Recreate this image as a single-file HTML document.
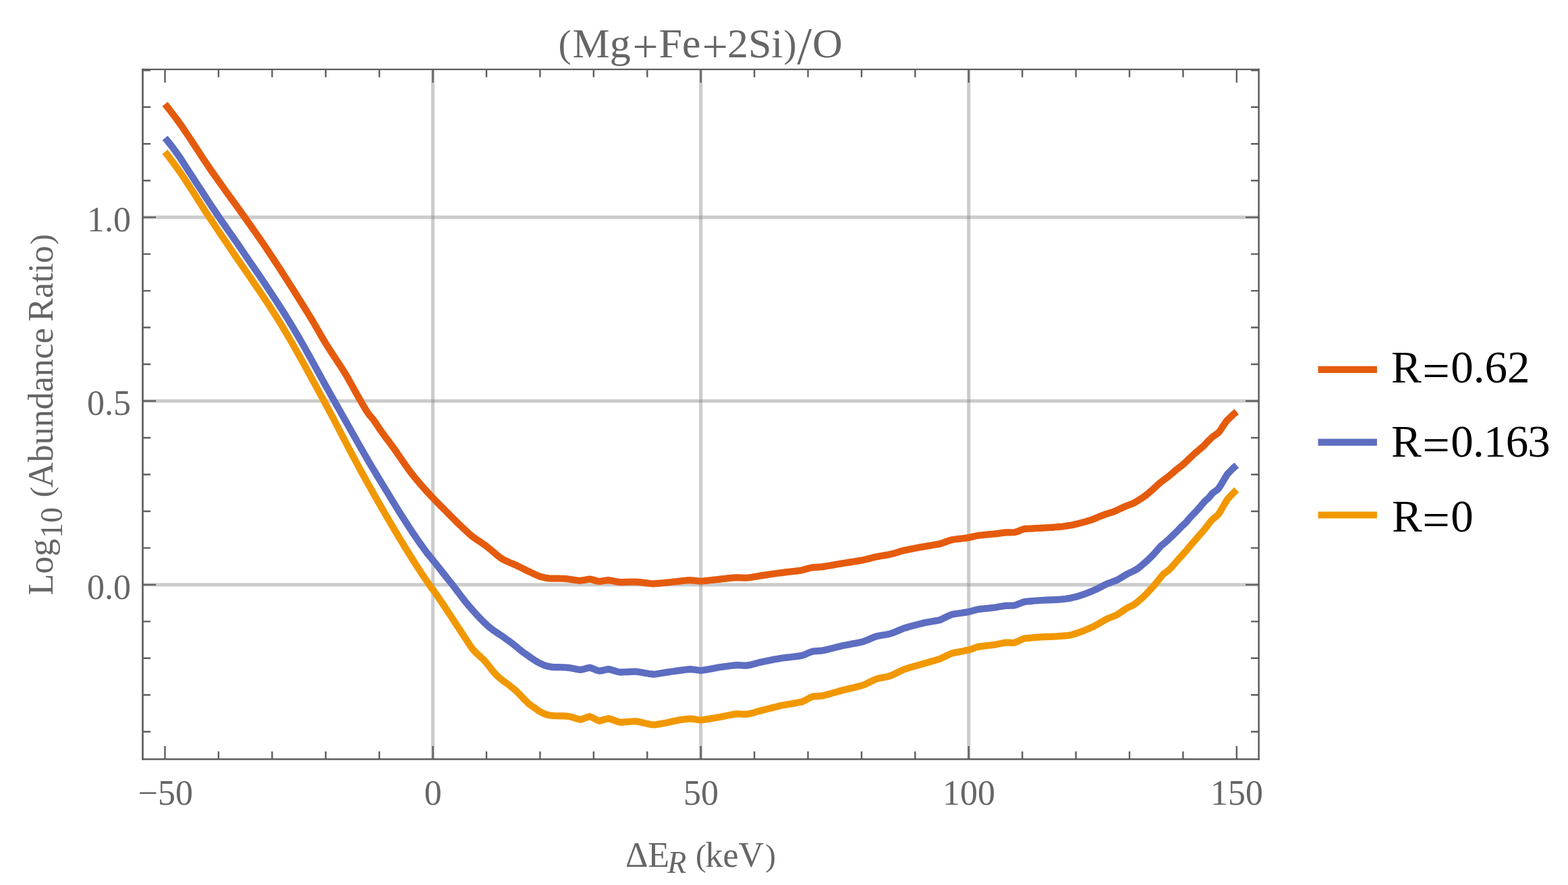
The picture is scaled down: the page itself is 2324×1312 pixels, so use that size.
<!DOCTYPE html>
<html lang="en"><head><meta charset="utf-8"><title>(Mg+Fe+2Si)/O</title>
<style>html,body{margin:0;padding:0;background:#fff;}body{width:2324px;height:1312px;overflow:hidden;}svg{display:block;}</style>
</head><body>
<svg width="2324" height="1312" viewBox="0 0 2324 1312">
<rect width="2324" height="1312" fill="#fff"/>
<path d="M641.60,103.0 V1125.5 M1038.70,103.0 V1125.5 M1435.80,103.0 V1125.5" stroke="rgba(128,128,128,0.4)" stroke-width="5.1" fill="none"/>
<path d="M211.5,866.87 H1865.7 M211.5,594.51 H1865.7 M211.5,322.15 H1865.7" stroke="rgba(128,128,128,0.4)" stroke-width="5.1" fill="none"/>
<path d="M244.55,154.30 L248.34,159.05 L252.13,163.86 L255.92,168.76 L259.71,173.76 L263.50,178.90 L267.32,184.23 L271.15,189.71 L274.97,195.30 L278.79,201.00 L282.62,206.77 L286.44,212.60 L290.26,218.45 L294.08,224.32 L297.91,230.17 L301.73,235.99 L305.55,241.75 L309.38,247.43 L313.20,253.00 L317.02,258.47 L320.83,263.89 L324.65,269.26 L328.46,274.59 L332.28,279.89 L336.09,285.18 L339.91,290.44 L343.72,295.71 L347.54,300.98 L351.35,306.27 L355.17,311.58 L358.98,316.92 L362.80,322.30 L366.61,327.69 L370.43,333.07 L374.24,338.46 L378.05,343.88 L381.86,349.32 L385.68,354.82 L389.49,360.37 L393.30,366.00 L397.21,371.84 L401.12,377.72 L405.04,383.64 L408.95,389.59 L412.86,395.58 L416.77,401.61 L420.68,407.67 L424.59,413.77 L428.51,419.90 L432.42,426.06 L436.33,432.25 L440.24,438.47 L444.15,444.72 L448.06,451.00 L451.98,457.31 L455.89,463.64 L459.80,470.00 L462.50,474.46 L465.20,479.00 L468.68,484.96 L472.16,491.04 L475.64,497.12 L479.12,503.11 L482.60,508.90 L485.97,514.28 L489.33,519.50 L492.70,524.63 L496.07,529.72 L499.43,534.82 L502.80,540.00 L506.10,545.08 L509.40,550.18 L512.70,555.50 L515.80,560.84 L518.90,566.41 L522.00,572.00 L526.00,579.22 L530.00,586.47 L534.00,593.50 L537.20,599.03 L540.40,604.53 L543.60,609.73 L546.80,614.40 L550.10,618.34 L553.40,622.20 L556.90,627.17 L560.40,632.56 L563.90,637.80 L567.48,642.79 L571.06,647.62 L574.64,652.38 L578.22,657.15 L581.80,662.00 L585.61,667.33 L589.42,672.80 L593.24,678.33 L597.05,683.88 L600.86,689.36 L604.67,694.72 L608.49,699.90 L612.30,704.83 L616.18,709.62 L620.06,714.26 L623.94,718.77 L627.83,723.16 L631.71,727.47 L635.59,731.70 L639.47,735.87 L643.35,740.00 L646.72,743.51 L650.09,746.93 L653.46,750.28 L656.83,753.63 L660.20,757.00 L663.57,760.42 L666.93,763.85 L670.30,767.28 L673.66,770.67 L677.03,774.00 L680.89,777.74 L684.74,781.41 L688.60,785.00 L691.61,787.79 L694.62,790.57 L697.64,793.23 L700.65,795.70 L704.09,798.21 L707.52,800.52 L710.96,802.77 L714.40,805.10 L717.20,807.09 L720.00,809.15 L722.73,811.24 L725.47,813.39 L728.20,815.60 L731.77,818.65 L735.33,821.79 L738.90,824.70 L742.15,827.11 L745.40,829.20 L749.28,831.22 L753.16,832.98 L757.04,834.61 L760.92,836.22 L764.80,837.94 L768.68,839.81 L772.56,841.74 L776.44,843.68 L780.32,845.59 L784.20,847.40 L788.10,849.25 L792.00,851.15 L795.90,852.94 L799.80,854.48 L803.70,855.60 L806.93,856.29 L810.15,856.89 L813.38,857.35 L816.60,857.60 L820.50,857.66 L824.40,857.69 L828.30,857.71 L832.20,857.75 L836.10,857.80 L839.33,858.10 L842.55,858.55 L845.77,859.04 L849.00,859.50 L852.67,859.99 L856.33,860.46 L860.00,860.80 L863.58,860.32 L867.15,859.65 L870.72,858.98 L874.30,858.50 L877.70,859.23 L881.10,860.25 L884.50,861.27 L887.90,862.00 L891.30,861.61 L894.70,861.05 L898.10,860.49 L901.50,860.10 L905.00,860.57 L908.50,861.24 L912.00,861.96 L915.50,862.63 L919.00,863.10 L922.67,863.03 L926.33,862.92 L930.00,862.80 L933.67,862.68 L937.33,862.58 L941.00,862.50 L944.89,862.79 L948.77,863.19 L952.66,863.66 L956.54,864.14 L960.43,864.61 L964.31,865.01 L968.20,865.30 L971.58,865.12 L974.96,864.87 L978.34,864.59 L981.72,864.29 L985.10,864.00 L988.83,863.62 L992.55,863.21 L996.27,862.80 L1000.00,862.40 L1003.67,862.01 L1007.33,861.59 L1011.00,861.17 L1014.67,860.78 L1018.33,860.45 L1022.00,860.20 L1025.32,860.40 L1028.64,860.69 L1031.96,861.01 L1035.28,861.30 L1038.60,861.50 L1042.54,861.23 L1046.48,860.87 L1050.42,860.45 L1054.36,860.01 L1058.30,859.60 L1061.90,859.22 L1065.50,858.82 L1069.10,858.40 L1072.70,857.98 L1076.30,857.57 L1079.90,857.18 L1083.50,856.84 L1087.10,856.54 L1090.70,856.30 L1094.60,856.38 L1098.50,856.50 L1102.40,856.62 L1106.30,856.70 L1110.18,856.29 L1114.07,855.73 L1117.95,855.09 L1121.83,854.41 L1125.72,853.73 L1129.60,853.10 L1133.20,852.59 L1136.80,852.08 L1140.40,851.57 L1144.00,851.07 L1147.60,850.56 L1151.20,850.07 L1154.80,849.57 L1158.40,849.08 L1162.00,848.60 L1165.51,848.18 L1169.03,847.79 L1172.54,847.40 L1176.06,847.01 L1179.57,846.60 L1183.09,846.17 L1186.60,845.70 L1189.96,844.89 L1193.32,843.97 L1196.68,843.02 L1200.04,842.14 L1203.40,841.40 L1206.98,841.12 L1210.55,840.89 L1214.12,840.66 L1217.70,840.40 L1221.26,839.89 L1224.83,839.33 L1228.39,838.73 L1231.95,838.11 L1235.51,837.48 L1239.08,836.84 L1242.64,836.21 L1246.20,835.60 L1249.80,835.02 L1253.40,834.46 L1257.00,833.90 L1260.60,833.34 L1264.20,832.78 L1267.80,832.21 L1271.40,831.63 L1275.00,831.03 L1278.60,830.40 L1281.88,829.62 L1285.16,828.79 L1288.44,827.94 L1291.72,827.10 L1295.00,826.30 L1298.91,825.53 L1302.83,824.80 L1306.74,824.08 L1310.66,823.38 L1314.57,822.65 L1318.49,821.90 L1322.40,821.11 L1325.92,820.11 L1329.44,819.05 L1332.96,817.96 L1336.48,816.90 L1340.00,815.90 L1343.75,815.13 L1347.50,814.38 L1351.25,813.66 L1355.00,812.96 L1358.75,812.26 L1362.50,811.58 L1366.25,810.89 L1370.00,810.20 L1373.95,809.53 L1377.90,808.89 L1381.85,808.25 L1385.80,807.59 L1389.75,806.89 L1393.70,806.12 L1396.85,805.04 L1400.00,803.90 L1403.50,802.66 L1407.00,801.43 L1410.50,800.34 L1414.07,799.80 L1417.64,799.32 L1421.21,798.87 L1424.79,798.45 L1428.36,798.02 L1431.93,797.57 L1435.50,797.07 L1438.97,796.30 L1442.45,795.46 L1445.93,794.63 L1449.40,793.90 L1453.10,793.49 L1456.80,793.12 L1460.50,792.77 L1464.20,792.44 L1467.90,792.11 L1471.60,791.77 L1475.30,791.40 L1479.20,790.88 L1483.10,790.33 L1487.00,789.81 L1490.90,789.40 L1494.12,789.34 L1497.35,789.30 L1500.58,789.26 L1503.80,789.20 L1507.38,788.17 L1510.95,786.77 L1514.52,785.34 L1518.10,784.21 L1521.61,783.96 L1525.13,783.75 L1528.64,783.55 L1532.16,783.37 L1535.67,783.20 L1539.19,783.02 L1542.70,782.83 L1546.16,782.63 L1549.62,782.43 L1553.08,782.23 L1556.54,782.02 L1560.00,781.80 L1563.75,781.49 L1567.50,781.17 L1571.25,780.84 L1575.00,780.48 L1578.75,779.96 L1582.50,779.41 L1586.25,778.82 L1590.00,778.20 L1593.78,777.31 L1597.56,776.35 L1601.34,775.36 L1605.12,774.34 L1608.90,773.32 L1612.60,772.22 L1616.30,771.09 L1620.00,769.90 L1622.77,768.75 L1625.53,767.55 L1628.30,766.36 L1632.20,764.80 L1636.10,763.25 L1640.00,761.77 L1643.33,760.77 L1646.67,759.81 L1650.00,758.80 L1653.44,757.33 L1656.88,755.77 L1660.32,754.16 L1663.76,752.56 L1667.20,751.01 L1670.40,749.76 L1673.60,748.55 L1676.80,747.31 L1680.00,746.00 L1683.28,744.13 L1686.55,742.14 L1689.82,740.08 L1693.10,738.00 L1695.90,736.03 L1698.70,734.00 L1702.47,730.84 L1706.23,727.59 L1710.00,724.30 L1713.00,721.52 L1716.00,718.71 L1719.00,715.98 L1722.28,713.45 L1725.55,711.01 L1728.82,708.59 L1732.10,706.10 L1735.07,703.59 L1738.03,701.03 L1741.00,698.50 L1744.99,695.33 L1748.97,692.20 L1752.96,689.00 L1756.59,685.67 L1760.22,682.26 L1763.84,678.81 L1767.47,675.37 L1771.10,672.00 L1774.27,669.31 L1777.45,666.67 L1780.62,664.01 L1783.80,661.23 L1786.70,658.13 L1789.60,655.00 L1793.55,651.11 L1797.50,647.40 L1800.33,645.40 L1803.17,643.49 L1806.00,641.40 L1809.08,637.29 L1812.15,632.69 L1815.22,628.02 L1818.30,623.70 L1821.94,620.07 L1825.57,616.60 L1829.21,613.33 L1832.85,610.30" stroke="#E55B0D" stroke-width="10.2" fill="none" stroke-linejoin="round" stroke-linecap="butt"/>
<path d="M244.55,204.40 L248.34,208.95 L252.13,213.70 L255.92,218.63 L259.71,223.74 L263.50,229.00 L267.43,234.74 L271.35,240.77 L275.27,246.92 L279.20,253.00 L283.00,258.80 L286.80,264.61 L290.60,270.44 L294.40,276.26 L298.20,282.08 L302.00,287.89 L305.80,293.68 L309.60,299.46 L313.40,305.20 L317.20,310.91 L321.00,316.58 L324.80,322.20 L328.61,327.77 L332.43,333.27 L336.24,338.71 L340.05,344.13 L343.86,349.54 L347.68,354.98 L351.49,360.45 L355.30,366.00 L359.25,371.78 L363.19,377.54 L367.14,383.30 L371.09,389.06 L375.04,394.82 L378.98,400.59 L382.93,406.37 L386.88,412.18 L390.83,418.01 L394.77,423.88 L398.72,429.78 L402.67,435.73 L406.62,441.72 L410.56,447.77 L414.51,453.87 L418.46,460.04 L422.41,466.28 L426.35,472.60 L430.30,479.00 L434.29,485.58 L438.28,492.29 L442.26,499.11 L446.25,506.04 L450.24,513.06 L454.23,520.15 L458.21,527.30 L462.20,534.50 L466.19,541.73 L470.18,548.97 L474.16,556.22 L478.15,563.46 L482.14,570.67 L486.12,577.84 L490.11,584.95 L494.10,592.00 L497.91,598.71 L501.72,605.45 L505.54,612.21 L509.35,618.98 L513.16,625.75 L516.97,632.53 L520.78,639.29 L524.59,646.04 L528.41,652.77 L532.22,659.47 L536.03,666.13 L539.84,672.75 L543.65,679.33 L547.46,685.84 L551.28,692.30 L555.09,698.69 L558.90,705.00 L562.73,711.30 L566.55,717.61 L570.38,723.91 L574.21,730.20 L578.03,736.47 L581.86,742.72 L585.68,748.93 L589.51,755.10 L593.34,761.22 L597.16,767.29 L600.99,773.29 L604.82,779.21 L608.64,785.06 L612.47,790.81 L616.29,796.47 L620.12,802.03 L623.95,807.48 L627.77,812.80 L631.60,818.00 L634.93,822.28 L638.27,826.33 L641.60,830.40 L645.20,834.90 L648.80,839.41 L652.40,843.94 L656.00,848.48 L659.60,853.02 L663.20,857.57 L666.80,862.13 L670.40,866.70 L674.10,871.47 L677.80,876.33 L681.50,881.23 L685.20,886.09 L688.90,890.85 L692.60,895.44 L696.30,899.80 L700.11,904.13 L703.92,908.40 L707.74,912.59 L711.55,916.65 L715.36,920.56 L719.17,924.27 L722.99,927.77 L726.80,931.00 L730.66,933.95 L734.52,936.61 L738.38,939.13 L742.24,941.65 L746.10,944.30 L749.56,946.79 L753.02,949.31 L756.48,951.87 L759.94,954.50 L763.40,957.20 L766.67,959.92 L769.93,962.74 L773.20,965.40 L776.30,967.66 L779.40,969.80 L782.90,972.24 L786.40,974.72 L789.90,977.15 L793.40,979.47 L796.90,981.58 L800.40,983.40 L804.20,985.17 L808.00,986.71 L811.80,987.80 L815.27,988.38 L818.73,988.83 L822.20,989.10 L825.45,989.16 L828.70,989.20 L831.95,989.24 L835.20,989.30 L838.63,989.53 L842.07,989.84 L845.50,990.20 L849.23,990.89 L852.95,991.71 L856.67,992.47 L860.40,993.00 L863.80,992.31 L867.20,991.35 L870.60,990.39 L874.00,989.70 L877.58,990.74 L881.15,992.20 L884.72,993.66 L888.30,994.70 L891.70,994.16 L895.10,993.40 L898.50,992.64 L901.90,992.10 L905.40,992.81 L908.90,993.80 L912.40,994.90 L915.90,995.89 L919.40,996.60 L923.07,996.46 L926.73,996.27 L930.40,996.05 L934.07,995.83 L937.73,995.64 L941.40,995.50 L945.29,995.92 L949.17,996.51 L953.06,997.19 L956.94,997.91 L960.83,998.59 L964.71,999.18 L968.60,999.60 L972.24,999.21 L975.88,998.69 L979.52,998.09 L983.16,997.48 L986.80,996.90 L990.68,996.33 L994.56,995.77 L998.44,995.20 L1002.32,994.64 L1006.20,994.10 L1009.58,993.66 L1012.96,993.20 L1016.34,992.76 L1019.72,992.38 L1023.10,992.10 L1026.97,992.47 L1030.85,993.00 L1034.72,993.53 L1038.60,993.90 L1042.50,993.45 L1046.40,992.87 L1050.30,992.18 L1054.20,991.44 L1058.10,990.69 L1062.00,989.96 L1065.90,989.30 L1069.60,988.79 L1073.30,988.27 L1077.00,987.75 L1080.70,987.25 L1084.40,986.79 L1088.10,986.40 L1091.80,986.10 L1095.38,986.22 L1098.95,986.40 L1102.52,986.58 L1106.10,986.70 L1109.61,986.14 L1113.13,985.41 L1116.64,984.55 L1120.16,983.62 L1123.67,982.67 L1127.19,981.74 L1130.70,980.90 L1134.40,980.17 L1138.10,979.44 L1141.80,978.72 L1145.50,978.02 L1149.20,977.33 L1152.90,976.65 L1156.60,976.00 L1160.20,975.51 L1163.80,975.06 L1167.40,974.63 L1171.00,974.21 L1174.60,973.78 L1178.20,973.34 L1181.80,972.87 L1185.40,972.36 L1189.00,971.80 L1192.90,970.37 L1196.80,968.68 L1200.70,967.02 L1204.60,965.70 L1207.82,965.42 L1211.05,965.19 L1214.28,964.96 L1217.50,964.70 L1221.22,963.97 L1224.95,963.15 L1228.67,962.27 L1232.40,961.33 L1236.12,960.37 L1239.85,959.42 L1243.58,958.49 L1247.30,957.60 L1250.90,956.87 L1254.50,956.16 L1258.10,955.48 L1261.70,954.80 L1265.30,954.11 L1268.90,953.41 L1272.50,952.68 L1276.10,951.92 L1279.70,951.10 L1283.60,949.61 L1287.50,947.96 L1291.40,946.25 L1295.30,944.61 L1299.20,943.17 L1303.08,942.44 L1306.96,941.79 L1310.84,941.18 L1314.72,940.53 L1318.60,939.81 L1322.17,938.56 L1325.73,937.16 L1329.30,935.68 L1332.87,934.18 L1336.43,932.71 L1340.00,931.35 L1343.75,930.26 L1347.50,929.19 L1351.25,928.15 L1355.00,927.13 L1358.75,926.13 L1362.50,925.15 L1366.25,924.20 L1370.00,923.27 L1373.77,922.57 L1377.53,921.91 L1381.30,921.28 L1385.07,920.63 L1388.83,919.93 L1392.60,919.16 L1396.22,917.67 L1399.84,915.95 L1403.46,914.16 L1407.08,912.45 L1410.70,910.99 L1414.27,910.33 L1417.84,909.74 L1421.41,909.20 L1424.99,908.68 L1428.56,908.16 L1432.13,907.60 L1435.70,907.00 L1439.17,906.12 L1442.65,905.17 L1446.12,904.23 L1449.60,903.40 L1453.30,902.93 L1457.00,902.50 L1460.70,902.10 L1464.40,901.72 L1468.10,901.34 L1471.80,900.93 L1475.50,900.50 L1479.40,899.84 L1483.30,899.11 L1487.20,898.43 L1491.10,897.90 L1494.97,897.83 L1498.83,897.77 L1502.70,897.70 L1506.60,896.55 L1510.50,895.00 L1514.40,893.40 L1518.30,892.10 L1521.86,891.72 L1525.42,891.38 L1528.99,891.06 L1532.55,890.77 L1536.11,890.49 L1539.67,890.23 L1543.24,889.98 L1546.80,889.73 L1550.44,889.59 L1554.08,889.47 L1557.72,889.34 L1561.36,889.22 L1565.00,889.07 L1568.75,888.79 L1572.50,888.49 L1576.25,888.15 L1580.00,887.79 L1583.75,887.12 L1587.50,886.38 L1591.25,885.57 L1595.00,884.74 L1598.75,883.59 L1602.50,882.36 L1606.25,881.08 L1610.00,879.78 L1613.75,878.27 L1617.50,876.71 L1621.25,875.12 L1625.00,873.49 L1628.75,871.60 L1632.50,869.64 L1636.25,867.69 L1640.00,865.83 L1643.75,864.39 L1647.50,863.03 L1651.25,861.66 L1655.00,860.19 L1658.75,858.10 L1662.50,855.88 L1666.25,853.61 L1670.00,851.42 L1673.75,849.54 L1677.50,847.72 L1681.25,845.86 L1685.00,843.87 L1688.75,840.98 L1692.50,837.89 L1696.25,834.69 L1700.00,831.45 L1703.20,828.38 L1706.40,825.24 L1709.60,822.01 L1712.30,818.96 L1715.00,815.85 L1717.50,812.86 L1720.00,809.96 L1723.33,807.11 L1726.67,804.42 L1730.00,801.67 L1733.75,798.14 L1737.50,794.54 L1741.25,790.89 L1745.00,787.21 L1748.70,783.31 L1752.40,779.43 L1755.85,776.34 L1759.30,773.00 L1760.00,771.82 L1763.75,767.48 L1767.50,763.49 L1771.25,759.64 L1775.00,755.70 L1778.75,751.35 L1782.50,746.84 L1786.25,742.62 L1790.00,739.17 L1790.60,739.00 L1793.50,735.58 L1796.40,731.80 L1799.43,729.45 L1802.47,727.29 L1805.50,724.90 L1808.95,719.78 L1812.40,714.01 L1815.85,708.16 L1819.30,702.80 L1822.69,699.21 L1826.07,695.78 L1829.46,692.57 L1832.85,689.60" stroke="#5D6DC1" stroke-width="10.2" fill="none" stroke-linejoin="round" stroke-linecap="butt"/>
<path d="M244.55,225.20 L248.01,229.64 L251.47,234.15 L254.93,238.73 L258.38,243.39 L261.84,248.14 L265.30,253.00 L269.05,258.40 L272.80,263.95 L276.55,269.62 L280.30,275.38 L284.05,281.21 L287.80,287.10 L291.55,293.01 L295.30,298.93 L299.05,304.83 L302.80,310.69 L306.55,316.49 L310.30,322.20 L313.99,327.74 L317.68,333.24 L321.36,338.72 L325.05,344.17 L328.74,349.62 L332.43,355.07 L336.11,360.52 L339.80,366.00 L343.78,371.90 L347.76,377.76 L351.74,383.58 L355.72,389.38 L359.69,395.16 L363.67,400.93 L367.65,406.70 L371.63,412.48 L375.61,418.27 L379.59,424.09 L383.57,429.95 L387.55,435.84 L391.53,441.79 L395.51,447.79 L399.48,453.86 L403.46,460.01 L407.44,466.25 L411.42,472.57 L415.40,479.00 L419.37,485.52 L423.34,492.16 L427.31,498.91 L431.27,505.74 L435.24,512.67 L439.21,519.67 L443.18,526.74 L447.15,533.88 L451.12,541.06 L455.09,548.28 L459.06,555.54 L463.02,562.82 L466.99,570.12 L470.96,577.42 L474.93,584.71 L478.90,592.00 L482.89,599.36 L486.87,606.81 L490.86,614.34 L494.85,621.93 L498.83,629.56 L502.82,637.23 L506.81,644.91 L510.79,652.58 L514.78,660.24 L518.77,667.87 L522.75,675.45 L526.74,682.97 L530.73,690.41 L534.71,697.76 L538.70,705.00 L542.57,711.96 L546.44,718.88 L550.31,725.78 L554.18,732.64 L558.05,739.47 L561.92,746.26 L565.79,753.01 L569.66,759.72 L573.54,766.39 L577.41,773.01 L581.28,779.59 L585.15,786.12 L589.02,792.60 L592.89,799.03 L596.76,805.41 L600.63,811.73 L604.50,818.00 L608.46,824.37 L612.42,830.69 L616.39,836.94 L620.35,843.12 L624.31,849.20 L628.28,855.17 L632.24,861.01 L636.20,866.70 L638.90,870.36 L641.60,874.00 L645.42,879.41 L649.24,884.93 L653.06,890.53 L656.88,896.21 L660.70,901.95 L664.52,907.74 L668.34,913.55 L672.16,919.37 L675.98,925.20 L679.80,931.00 L683.47,936.63 L687.15,942.31 L690.83,947.98 L694.50,953.55 L697.25,957.79 L700.00,961.65 L703.66,965.76 L707.32,969.32 L710.98,972.63 L714.64,975.98 L718.30,979.67 L721.96,983.93 L725.62,988.57 L729.28,993.27 L732.94,997.72 L736.60,1001.60 L740.26,1004.87 L743.92,1007.81 L747.58,1010.56 L751.24,1013.27 L754.90,1016.07 L757.93,1018.42 L760.97,1020.77 L764.00,1023.31 L767.07,1026.26 L770.13,1029.46 L773.20,1032.65 L776.97,1036.61 L780.73,1040.56 L784.50,1044.00 L787.95,1046.44 L791.40,1048.70 L794.40,1050.89 L797.40,1053.11 L800.40,1055.00 L804.20,1057.00 L808.00,1058.72 L811.80,1059.90 L815.27,1060.49 L818.73,1060.93 L822.20,1061.20 L825.45,1061.26 L828.70,1061.30 L831.95,1061.34 L835.20,1061.40 L838.63,1061.67 L842.07,1062.05 L845.50,1062.50 L849.23,1063.53 L852.95,1064.80 L856.67,1065.97 L860.40,1066.80 L863.80,1065.84 L867.20,1064.50 L870.60,1063.16 L874.00,1062.20 L877.58,1063.55 L881.15,1065.45 L884.72,1067.35 L888.30,1068.70 L891.70,1067.97 L895.10,1066.95 L898.50,1065.93 L901.90,1065.20 L905.40,1066.09 L908.90,1067.36 L912.40,1068.74 L915.90,1070.01 L919.40,1070.90 L923.07,1070.70 L926.73,1070.42 L930.40,1070.10 L934.07,1069.78 L937.73,1069.50 L941.40,1069.30 L945.29,1069.84 L949.17,1070.58 L953.06,1071.45 L956.94,1072.35 L960.83,1073.22 L964.71,1073.96 L968.60,1074.50 L972.24,1074.11 L975.88,1073.58 L979.52,1072.97 L983.16,1072.33 L986.80,1071.70 L990.68,1070.86 L994.56,1069.97 L998.44,1069.06 L1002.32,1068.19 L1006.20,1067.40 L1009.58,1066.96 L1012.96,1066.52 L1016.34,1066.11 L1019.72,1065.76 L1023.10,1065.50 L1026.97,1065.89 L1030.85,1066.45 L1034.72,1067.01 L1038.60,1067.40 L1042.50,1067.00 L1046.40,1066.49 L1050.30,1065.88 L1054.20,1065.22 L1058.10,1064.54 L1062.00,1063.85 L1065.90,1063.20 L1069.60,1062.50 L1073.30,1061.73 L1077.00,1060.94 L1080.70,1060.18 L1084.40,1059.47 L1088.10,1058.86 L1091.80,1058.40 L1095.38,1058.50 L1098.95,1058.65 L1102.52,1058.80 L1106.10,1058.90 L1109.61,1058.32 L1113.13,1057.56 L1116.64,1056.67 L1120.16,1055.70 L1123.67,1054.71 L1127.19,1053.72 L1130.70,1052.80 L1134.40,1051.87 L1138.10,1050.92 L1141.80,1049.97 L1145.50,1049.03 L1149.20,1048.10 L1152.90,1047.18 L1156.60,1046.30 L1160.20,1045.61 L1163.80,1044.96 L1167.40,1044.34 L1171.00,1043.73 L1174.60,1043.12 L1178.20,1042.48 L1181.80,1041.81 L1185.40,1041.09 L1189.00,1040.30 L1192.90,1038.48 L1196.80,1036.37 L1200.70,1034.32 L1204.60,1032.70 L1207.82,1032.42 L1211.05,1032.19 L1214.28,1031.96 L1217.50,1031.70 L1221.22,1030.90 L1224.95,1029.99 L1228.67,1029.00 L1232.40,1027.95 L1236.12,1026.87 L1239.85,1025.78 L1243.58,1024.72 L1247.30,1023.70 L1250.90,1022.80 L1254.50,1021.93 L1258.10,1021.07 L1261.70,1020.22 L1265.30,1019.36 L1268.90,1018.47 L1272.50,1017.56 L1276.10,1016.61 L1279.70,1015.60 L1283.60,1013.86 L1287.50,1011.94 L1291.40,1009.97 L1295.30,1008.08 L1299.20,1006.40 L1303.08,1005.51 L1306.96,1004.72 L1310.84,1003.97 L1314.72,1003.18 L1318.60,1002.30 L1322.25,1000.79 L1325.90,999.12 L1329.55,997.34 L1333.20,995.55 L1336.85,993.81 L1340.50,992.20 L1344.06,991.06 L1347.61,989.97 L1351.17,988.92 L1354.73,987.89 L1358.29,986.86 L1361.84,985.84 L1365.40,984.80 L1369.29,983.69 L1373.17,982.61 L1377.06,981.54 L1380.94,980.46 L1384.83,979.36 L1388.71,978.21 L1392.60,977.00 L1396.22,975.38 L1399.84,973.62 L1403.46,971.83 L1407.08,970.12 L1410.70,968.60 L1414.27,967.80 L1417.84,967.07 L1421.41,966.39 L1424.99,965.73 L1428.56,965.07 L1432.13,964.37 L1435.70,963.60 L1439.17,962.45 L1442.65,961.20 L1446.12,959.97 L1449.60,958.90 L1453.30,958.35 L1457.00,957.86 L1460.70,957.41 L1464.40,956.98 L1468.10,956.55 L1471.80,956.09 L1475.50,955.60 L1479.40,954.82 L1483.30,953.96 L1487.20,953.17 L1491.10,952.60 L1494.97,952.72 L1498.83,952.88 L1502.70,953.00 L1506.60,951.70 L1510.50,949.89 L1514.40,948.02 L1518.30,946.53 L1521.86,946.15 L1525.42,945.80 L1528.99,945.48 L1532.55,945.19 L1536.11,944.92 L1539.67,944.66 L1543.24,944.41 L1546.80,944.17 L1550.10,944.05 L1553.40,943.93 L1556.70,943.82 L1560.00,943.70 L1563.10,943.57 L1566.20,943.44 L1569.56,943.21 L1572.92,942.96 L1576.28,942.69 L1579.64,942.40 L1583.00,942.08 L1586.50,941.39 L1590.00,940.60 L1593.88,939.38 L1597.75,938.08 L1601.62,936.72 L1605.50,935.34 L1609.12,933.86 L1612.75,932.35 L1616.38,930.80 L1620.00,929.20 L1622.70,927.78 L1625.40,926.32 L1628.76,924.39 L1632.12,922.40 L1635.48,920.43 L1638.84,918.51 L1642.20,916.70 L1646.10,915.21 L1650.00,913.75 L1652.60,912.70 L1655.20,911.59 L1659.08,909.12 L1662.95,906.44 L1666.83,903.73 L1670.70,901.21 L1673.80,899.76 L1676.90,898.38 L1680.00,896.90 L1683.62,894.18 L1687.25,891.23 L1690.88,888.14 L1694.50,885.00 L1697.90,881.54 L1701.30,877.98 L1704.70,874.33 L1708.10,870.63 L1711.50,866.90 L1714.72,862.91 L1717.95,858.78 L1721.18,854.74 L1724.40,851.00 L1727.23,848.82 L1730.07,846.78 L1732.90,844.63 L1736.80,840.47 L1740.70,836.03 L1744.60,831.50 L1748.50,827.05 L1752.20,823.04 L1755.90,819.00 L1758.65,815.70 L1761.40,812.37 L1764.65,808.56 L1767.90,804.77 L1771.15,800.99 L1774.40,797.21 L1777.97,793.16 L1781.53,789.11 L1785.10,785.00 L1788.87,780.15 L1792.63,775.22 L1796.40,770.60 L1799.43,768.04 L1802.47,765.63 L1805.50,763.00 L1808.95,757.68 L1812.40,751.74 L1815.85,745.73 L1819.30,740.20 L1822.69,736.41 L1826.07,732.79 L1829.46,729.37 L1832.85,726.20" stroke="#F19800" stroke-width="10.2" fill="none" stroke-linejoin="round" stroke-linecap="butt"/>
<path d="M244.50,1125.5 v-19.6 M244.50,103.0 v19.6 M323.92,1125.5 v-11.6 M323.92,103.0 v11.6 M403.34,1125.5 v-11.6 M403.34,103.0 v11.6 M482.76,1125.5 v-11.6 M482.76,103.0 v11.6 M562.18,1125.5 v-11.6 M562.18,103.0 v11.6 M641.60,1125.5 v-19.6 M641.60,103.0 v19.6 M721.02,1125.5 v-11.6 M721.02,103.0 v11.6 M800.44,1125.5 v-11.6 M800.44,103.0 v11.6 M879.86,1125.5 v-11.6 M879.86,103.0 v11.6 M959.28,1125.5 v-11.6 M959.28,103.0 v11.6 M1038.70,1125.5 v-19.6 M1038.70,103.0 v19.6 M1118.12,1125.5 v-11.6 M1118.12,103.0 v11.6 M1197.54,1125.5 v-11.6 M1197.54,103.0 v11.6 M1276.96,1125.5 v-11.6 M1276.96,103.0 v11.6 M1356.38,1125.5 v-11.6 M1356.38,103.0 v11.6 M1435.80,1125.5 v-19.6 M1435.80,103.0 v19.6 M1515.22,1125.5 v-11.6 M1515.22,103.0 v11.6 M1594.64,1125.5 v-11.6 M1594.64,103.0 v11.6 M1674.06,1125.5 v-11.6 M1674.06,103.0 v11.6 M1753.48,1125.5 v-11.6 M1753.48,103.0 v11.6 M1832.90,1125.5 v-19.6 M1832.90,103.0 v19.6 M211.5,1084.76 h11.6 M1865.7,1084.76 h-11.6 M211.5,1030.29 h11.6 M1865.7,1030.29 h-11.6 M211.5,975.81 h11.6 M1865.7,975.81 h-11.6 M211.5,921.34 h11.6 M1865.7,921.34 h-11.6 M211.5,866.87 h19.6 M1865.7,866.87 h-19.6 M211.5,812.40 h11.6 M1865.7,812.40 h-11.6 M211.5,757.93 h11.6 M1865.7,757.93 h-11.6 M211.5,703.45 h11.6 M1865.7,703.45 h-11.6 M211.5,648.98 h11.6 M1865.7,648.98 h-11.6 M211.5,594.51 h19.6 M1865.7,594.51 h-19.6 M211.5,540.04 h11.6 M1865.7,540.04 h-11.6 M211.5,485.57 h11.6 M1865.7,485.57 h-11.6 M211.5,431.09 h11.6 M1865.7,431.09 h-11.6 M211.5,376.62 h11.6 M1865.7,376.62 h-11.6 M211.5,322.15 h19.6 M1865.7,322.15 h-19.6 M211.5,267.68 h11.6 M1865.7,267.68 h-11.6 M211.5,213.21 h11.6 M1865.7,213.21 h-11.6 M211.5,158.73 h11.6 M1865.7,158.73 h-11.6 M211.5,104.26 h11.6 M1865.7,104.26 h-11.6" stroke="#5e5e5e" stroke-width="2.4" fill="none"/>
<g stroke="#5e5e5e" fill="none" stroke-linecap="square"><path d="M211.5,103.0 V1125.5" stroke-width="2.7"/><path d="M1865.7,103.0 V1125.5" stroke-width="2.5"/><path d="M211.5,102.95 H1865.7" stroke-width="2.2"/><path d="M211.5,1125.5 H1865.7" stroke-width="2.7"/></g>
<g font-family="'Liberation Serif', serif">
<text x="245.25" y="1193.20" font-size="52" fill="#666666" text-anchor="middle">−50</text>
<text x="641.75" y="1193.20" font-size="52" fill="#666666" text-anchor="middle">0</text>
<text x="1038.90" y="1193.20" font-size="52" fill="#666666" text-anchor="middle">50</text>
<text x="1436.00" y="1193.20" font-size="52" fill="#666666" text-anchor="middle">100</text>
<text x="1833.10" y="1193.20" font-size="52" fill="#666666" text-anchor="middle">150</text>
<text x="128.90" y="887.72" font-size="52" fill="#666666">0.0</text>
<text x="128.90" y="615.36" font-size="52" fill="#666666">0.5</text>
<text x="128.90" y="343.00" font-size="52" fill="#666666">1.0</text>
<text x="827.60" y="83.70" font-size="57.5" fill="#666666">(</text>
<text x="848.60" y="84.70" font-size="62" fill="#666666">Mg</text>
<text x="937.40" y="91.60" font-size="67.5" fill="#666666">+</text>
<text x="976.60" y="84.70" font-size="62" fill="#666666">Fe</text>
<text x="1040.70" y="91.60" font-size="67.5" fill="#666666">+</text>
<text x="1077.90" y="84.70" font-size="62" fill="#666666">2Si</text>
<text x="1161.50" y="83.70" font-size="57.5" fill="#666666">)</text>
<text x="1181.40" y="93.50" font-size="78" fill="#666666">/</text>
<text x="1204.10" y="84.70" font-size="62" fill="#666666">O</text>
<text x="926.90" y="1284.80" font-size="52" fill="#666666">ΔE</text>
<text x="989.20" y="1293.60" font-size="46" fill="#666666" font-style="italic">R</text>
<text x="1031.10" y="1283.60" font-size="47" fill="#666666">(</text>
<text x="1045.40" y="1284.80" font-size="52" fill="#666666">keV</text>
<text x="1134.20" y="1283.60" font-size="47" fill="#666666">)</text>
<text transform="translate(77.90,882.60) rotate(-90)" font-size="52" fill="#666666">Log</text>
<text transform="translate(92.20,798.10) rotate(-90)" font-size="46" fill="#666666">10</text>
<text transform="translate(76.70,737.35) rotate(-90)" font-size="47" fill="#666666">(</text>
<text transform="translate(77.90,722.90) rotate(-90)" font-size="52" fill="#666666">Abundance</text>
<text transform="translate(77.90,476.80) rotate(-90)" font-size="52" fill="#666666">Ratio</text>
<text transform="translate(76.70,362.70) rotate(-90)" font-size="47" fill="#666666">)</text>
<text x="2062.00" y="566.80" font-size="67" fill="#000000">R</text>
<text x="2108.20" y="574.20" font-size="72" fill="#000000">=</text>
<text x="2150.30" y="566.80" font-size="67" fill="#000000">0.62</text>
<text x="2062.00" y="676.90" font-size="67" fill="#000000">R</text>
<text x="2108.20" y="684.30" font-size="72" fill="#000000">=</text>
<text x="2150.30" y="676.90" font-size="67" fill="#000000" letter-spacing="-0.8">0.163</text>
<text x="2063.00" y="787.80" font-size="67" fill="#000000">R</text>
<text x="2108.20" y="795.20" font-size="72" fill="#000000">=</text>
<text x="2150.30" y="787.80" font-size="67" fill="#000000">0</text>
</g>
<path d="M1953.6,547.80 H2040.9" stroke="#E55B0D" stroke-width="10.2" fill="none"/>
<path d="M1953.6,655.65 H2040.9" stroke="#5D6DC1" stroke-width="10.2" fill="none"/>
<path d="M1953.6,763.50 H2040.9" stroke="#F19800" stroke-width="10.2" fill="none"/>
</svg>
</body></html>
